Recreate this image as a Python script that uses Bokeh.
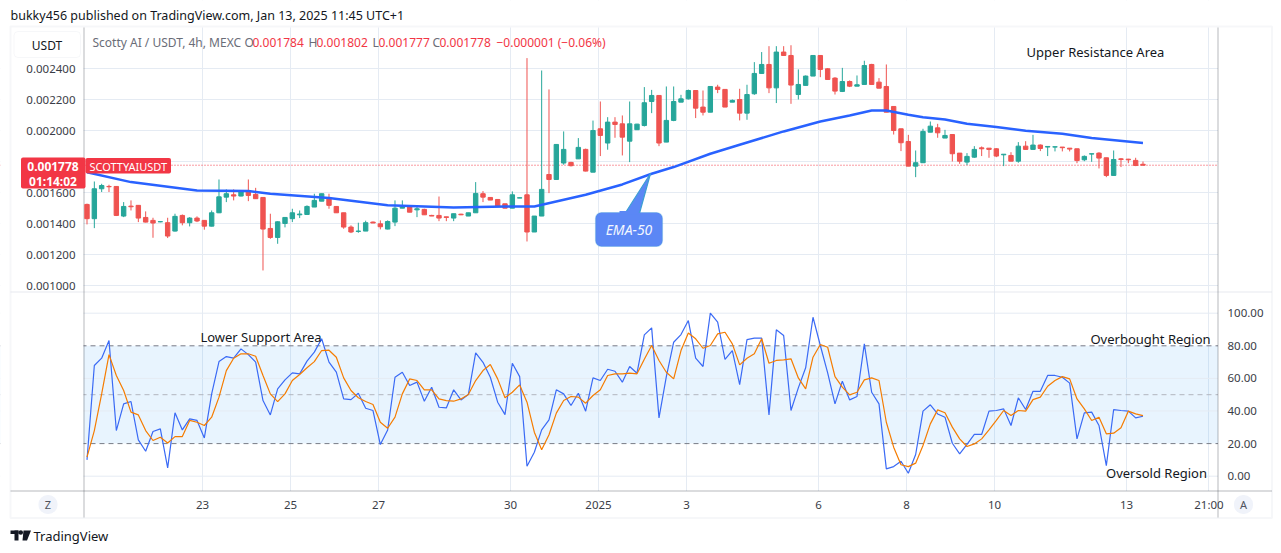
import numpy as np
from bokeh.plotting import figure
from bokeh.models import (Range1d, LinearAxis, FixedTicker, Span, BoxAnnotation, Label,
                          PrintfTickFormatter, ColumnDataSource)
from bokeh.embed import file_html
from bokeh.resources import INLINE

# ---------------- data (prices in units of 1e-6 USDT) ----------------
PRICE_UNIT = 1e-6
opens = [1525, 1433, 1626, 1641, 1641, 1450, 1514, 1519, 1441, 1422, 1413, 1407, 1353, 1454, 1407, 1437, 1422, 1385, 1471, 1572,
         1587, 1579, 1605, 1590, 1570, 1370, 1312, 1402, 1433, 1458, 1460, 1508, 1546, 1568, 1512, 1471, 1379, 1351, 1353, 1411,
         1400, 1366, 1411, 1501, 1508, 1490, 1493, 1454, 1454, 1445, 1437, 1462, 1450, 1471, 1594, 1570, 1557, 1529, 1501, 1566,
         1587, 1347, 1450, 1718, 1686, 1792, 1796, 1819, 1880, 1733, 2013, 1921, 2056, 2045, 1933, 2007, 2034, 2189, 2228, 1927,
         2067, 2185, 2206, 2260, 2153, 2120, 2282, 2267, 2185, 2202, 2114, 2239, 2370, 2428, 2277, 2508, 2486, 2234, 2293, 2353,
         2486, 2400, 2340, 2254, 2318, 2288, 2299, 2428, 2314, 2286, 2157, 2013, 1931, 1772, 1794, 1991, 2019, 1953, 1976, 1856,
         1798, 1830, 1890, 1888, 1884, 1845, 1841, 1804, 1901, 1880, 1908, 1895, 1895, 1895, 1888, 1884, 1813, 1850, 1856, 1826,
         1712, 1819, 1817, 1809, 1784]
highs = [1530, 1673, 1658, 1652, 1643, 1540, 1551, 1521, 1480, 1439, 1416, 1439, 1465, 1460, 1443, 1448, 1424, 1486, 1686, 1622,
         1622, 1607, 1686, 1632, 1572, 1465, 1416, 1443, 1497, 1486, 1519, 1594, 1594, 1594, 1512, 1471, 1390, 1407, 1420, 1415,
         1422, 1422, 1551, 1551, 1508, 1519, 1497, 1458, 1576, 1445, 1465, 1465, 1471, 1669, 1611, 1570, 1557, 1529, 1609, 1570,
         2469, 1450, 2389, 2267, 1912, 1996, 1800, 1953, 1885, 2066, 2189, 2088, 2088, 2099, 2189, 2045, 2282, 2264, 2228, 2286,
         2286, 2232, 2266, 2260, 2260, 2286, 2297, 2267, 2202, 2271, 2297, 2443, 2508, 2546, 2546, 2546, 2552, 2396, 2357, 2486,
         2486, 2404, 2346, 2406, 2325, 2357, 2452, 2432, 2340, 2428, 2157, 2013, 1974, 1873, 2013, 2060, 2045, 2006, 1976, 1856,
         1856, 1901, 1899, 1888, 1888, 1849, 1862, 1927, 1933, 1974, 1912, 1901, 1897, 1895, 1888, 1884, 1841, 1852, 1862, 1826,
         1873, 1824, 1819, 1826, 1802]
lows = [1396, 1372, 1605, 1605, 1450, 1443, 1486, 1411, 1409, 1310, 1410, 1308, 1350, 1390, 1383, 1411, 1362, 1383, 1469, 1540,
        1551, 1577, 1546, 1560, 1099, 1303, 1271, 1377, 1411, 1437, 1458, 1508, 1546, 1497, 1471, 1368, 1340, 1342, 1353, 1405,
        1364, 1364, 1385, 1501, 1475, 1443, 1458, 1450, 1417, 1417, 1417, 1456, 1450, 1471, 1540, 1553, 1514, 1501, 1501, 1566,
        1286, 1347, 1450, 1598, 1686, 1781, 1770, 1819, 1738, 1733, 1837, 1878, 1955, 1841, 1798, 2007, 2028, 2114, 1901, 1927,
        2062, 2185, 2202, 2082, 2099, 2120, 2243, 2153, 2185, 2067, 2071, 2232, 2368, 2243, 2179, 2486, 2174, 2202, 2293, 2353,
        2346, 2331, 2234, 2250, 2282, 2288, 2299, 2299, 2275, 2120, 1976, 1869, 1772, 1701, 1794, 1991, 1955, 1953, 1802, 1787,
        1779, 1826, 1837, 1826, 1830, 1772, 1804, 1794, 1880, 1880, 1869, 1837, 1867, 1867, 1867, 1791, 1804, 1800, 1757, 1701,
        1712, 1766, 1791, 1772, 1777]
closes = [1433, 1626, 1647, 1639, 1454, 1512, 1510, 1437, 1411, 1405, 1414, 1321, 1448, 1407, 1437, 1418, 1385, 1471, 1574, 1594,
          1579, 1605, 1583, 1562, 1366, 1312, 1413, 1441, 1471, 1463, 1512, 1551, 1594, 1519, 1471, 1379, 1347, 1353, 1407, 1405,
          1381, 1415, 1501, 1508, 1475, 1497, 1458, 1450, 1437, 1441, 1465, 1458, 1471, 1596, 1572, 1553, 1514, 1501, 1587, 1568,
          1347, 1450, 1622, 1686, 1912, 1880, 1775, 1893, 1740, 2002, 1970, 2056, 2041, 1959, 2045, 2043, 2181, 2228, 1921, 2067,
          2189, 2206, 2260, 2146, 2120, 2286, 2267, 2153, 2196, 2114, 2234, 2370, 2428, 2277, 2508, 2486, 2295, 2299, 2353, 2486,
          2396, 2331, 2256, 2318, 2288, 2297, 2421, 2299, 2275, 2120, 2002, 1923, 1772, 1794, 1996, 2030, 1987, 1970, 1852, 1804,
          1835, 1880, 1884, 1880, 1837, 1849, 1804, 1901, 1880, 1908, 1886, 1899, 1897, 1891, 1882, 1808, 1835, 1852, 1824, 1712,
          1815, 1815, 1813, 1776, 1778]

# EMA-50 (bar index, value in 1e-6)
ema_bar = [0, 6, 15, 22, 25, 33, 41, 50, 57, 61, 68, 73, 77, 80, 85, 89, 95, 100, 104, 107, 109, 112, 114, 117, 120, 124,
           128, 133, 137, 144]
ema_val = [1733, 1669, 1615, 1611, 1594, 1566, 1519, 1505, 1512, 1512, 1587, 1654, 1723, 1766, 1852, 1910, 1996, 2060, 2099,
           2131, 2131, 2103, 2088, 2073, 2045, 2024, 2000, 1981, 1953, 1921]

rsi = [10.0, 67.9, 72.4, 83.2, 28.0, 44.4, 45.8, 22.3, 15.3, 27.4, 29.0, 5.1, 38.9, 28.4, 35.2, 34.2, 23.5, 50.5, 70.3, 73.4,
       72.4, 78.1, 74.6, 70.0, 46.4, 37.6, 53.6, 59.1, 63.4, 62.8, 70.6, 76.1, 84.3, 70.0, 63.8, 47.4, 47.0, 50.9, 41.7, 40.3,
       19.4, 28.4, 60.7, 63.8, 55.6, 57.7, 46.0, 54.6, 42.3, 41.9, 53.0, 46.8, 50.1, 75.7, 69.9, 60.7, 45.4, 37.8, 69.3, 61.1,
       6.1, 14.7, 28.4, 34.6, 53.0, 50.5, 43.4, 50.9, 39.9, 60.3, 58.7, 65.6, 64.4, 57.7, 67.3, 63.2, 86.7, 91.0, 35.8, 61.1,
       82.2, 86.9, 95.5, 72.4, 67.3, 100.0, 94.5, 71.6, 77.1, 56.2, 83.8, 84.7, 84.7, 37.6, 89.8, 86.3, 40.3, 54.2, 66.5, 97.5,
       80.2, 63.4, 44.4, 58.3, 46.8, 48.9, 81.2, 51.5, 44.4, 4.5, 5.9, 9.2, 1.8, 13.3, 39.9, 43.8, 38.2, 36.2, 20.2, 13.7,
       19.5, 25.6, 25.6, 39.9, 40.3, 41.3, 31.1, 48.1, 40.9, 52.1, 52.1, 61.8, 61.8, 60.7, 57.1, 22.9, 38.9, 39.3, 31.1, 6.5,
       40.9, 40.3, 39.9, 35.8, 36.8]
rsi_ma = [11.7, 28.0, 50.5, 74.6, 61.8, 52.6, 39.3, 37.6, 28.0, 21.9, 23.9, 20.4, 24.3, 24.3, 34.2, 33.1, 31.1, 36.2, 48.5, 64.8,
          72.4, 75.1, 75.1, 73.6, 61.8, 50.5, 45.8, 50.5, 58.7, 62.4, 66.5, 70.3, 77.1, 77.3, 73.0, 60.3, 52.6, 48.1, 45.8, 44.0,
          33.1, 29.4, 36.2, 50.5, 59.7, 58.7, 53.0, 53.0, 47.4, 46.4, 46.0, 47.4, 50.1, 58.7, 64.8, 68.5, 59.7, 48.1, 51.5, 56.0,
          45.4, 27.0, 16.2, 25.4, 38.7, 46.4, 48.9, 48.5, 44.8, 49.5, 53.0, 61.8, 62.8, 62.8, 63.2, 62.8, 71.8, 80.2, 71.0, 63.8,
          59.7, 77.1, 87.9, 84.3, 78.5, 80.2, 87.3, 88.3, 81.2, 68.3, 72.4, 75.1, 84.3, 69.3, 71.0, 71.4, 72.0, 60.3, 53.6, 73.0,
          80.8, 79.1, 61.1, 54.6, 49.9, 51.5, 59.1, 60.3, 58.7, 33.1, 17.8, 7.0, 5.9, 8.0, 18.8, 32.1, 40.7, 38.9, 30.1, 22.9,
          18.2, 19.8, 22.9, 28.4, 34.2, 40.3, 37.2, 40.3, 39.9, 47.0, 48.5, 55.2, 58.7, 61.1, 59.7, 47.4, 41.3, 34.2, 36.2, 26.0,
          26.4, 29.7, 39.9, 38.2, 37.2]

date_ticks = [15.75, 27.75, 39.75, 57.75, 69.75, 81.75, 99.75, 111.75, 123.75, 141.75, 153.0]
date_labels = ["23", "25", "27", "30", "2025", "3", "6", "8", "10", "13", "21:00"]
price_ticks = [0.0010, 0.0012, 0.0014, 0.0016, 0.0018, 0.0020, 0.0022, 0.0024]
rsi_ticks = [0, 20, 40, 60, 80, 100]
last_price = 0.001778

# ---------------- geometry: the frame fills the whole 1281x553 canvas ----------------
W, H = 1281, 553
BAR_PX = 7.3333
X0 = -86.5 / BAR_PX
X1 = X0 + W / BAR_PX
PPX = 6.4516e-6            # price per pixel
P1 = 0.0024 + 68.3 * PPX
P0 = P1 - H * PPX
RPX = 1.63                 # pixels per RSI unit
R1 = 475.7 / RPX
R0 = R1 - H / RPX


def px2x(px):
    return X0 + px / BAR_PX


def py2p(py):
    return P1 - py * PPX


def py2r(py):
    return R1 - py / RPX


FONT = "Noto Sans"
GREEN, RED = "#26a69a", "#ef5350"
TAG_RED = "#f23645"
GRID = "#e5ebf3"
AXIS = "#4d505a"
TXT = "#3a3d47"
BORDER = "#e0e3eb"

p = figure(width=W, height=H, output_backend="svg", toolbar_location=None,
           x_range=Range1d(X0, X1), y_range=Range1d(P0, P1),
           min_border=0, min_border_left=0, min_border_right=0, min_border_top=0, min_border_bottom=0)
p.extra_y_ranges = {"rsi": Range1d(R0, R1)}
p.outline_line_color = None
p.background_fill_color = "white"
p.border_fill_color = "white"

# axes (labels pulled inside the canvas)
xa = p.xaxis[0]
xa.ticker = FixedTicker(ticks=date_ticks)
xa.major_label_overrides = {t: s for t, s in zip(date_ticks, date_labels)}
xa.major_label_standoff = -57
ya = p.yaxis[0]
ya.ticker = FixedTicker(ticks=[t for t in price_ticks if abs(t - 0.0018) > 1e-9])
ya.formatter = PrintfTickFormatter(format="%.6f")
ya.major_label_standoff = -75
ra = LinearAxis(y_range_name="rsi", ticker=FixedTicker(ticks=rsi_ticks),
                formatter=PrintfTickFormatter(format="%.2f"))
p.add_layout(ra, "right")
ra.major_label_standoff = -54
for ax in (xa, ya, ra):
    ax.axis_line_color = None
    ax.major_tick_line_color = None
    ax.minor_tick_line_color = None
    ax.major_tick_out = 0
    ax.major_tick_in = 0
    ax.major_label_text_font = FONT
    ax.major_label_text_font_size = "11.5px"
    ax.major_label_text_color = TXT

# grids
p.xgrid.ticker = FixedTicker(ticks=date_ticks)
p.ygrid.ticker = FixedTicker(ticks=price_ticks)
for g in (p.xgrid[0], p.ygrid[0]):
    g.grid_line_color = GRID
    g.grid_line_width = 1

# RSI pane background band and reference lines
p.add_layout(BoxAnnotation(bottom=20, top=80, y_range_name="rsi", fill_color="#2196f3",
                           fill_alpha=0.1, line_color=None, level="underlay"))
for lv in (0, 40, 60, 100):
    p.add_layout(Span(location=lv, dimension="width", y_range_name="rsi", line_color=GRID,
                      line_width=1, level="underlay"))
for lv in (80, 20):
    p.add_layout(Span(location=lv, dimension="width", y_range_name="rsi", line_color="#787b86",
                      line_width=1, line_dash="5 4", level="underlay"))
p.add_layout(Span(location=50, dimension="width", y_range_name="rsi", line_color="#b2b5be",
                  line_width=1, line_dash="5 4", level="underlay"))
# last price dotted line
p.add_layout(Span(location=last_price, dimension="width", line_color=TAG_RED, line_width=1,
                  line_dash="1 2", level="underlay"))

# white margins around the plotting panes (hide grid/band outside the panes)
for kw in (dict(bottom=py2p(27)), dict(top=py2r(490.5), y_range_name="rsi"),
           dict(right=px2x(83)), dict(left=px2x(1217.5))):
    p.add_layout(BoxAnnotation(fill_color="white", fill_alpha=1.0, line_color=None,
                               level="underlay", **kw))

# chart box, pane separator and scale lines
p.add_layout(BoxAnnotation(left=px2x(10), right=px2x(1271.5), top=py2p(26), bottom=py2p(517.5),
                           fill_color=None, line_color=BORDER, line_width=2, level="underlay"))
p.add_layout(BoxAnnotation(left=px2x(10), right=px2x(1271.5), top=py2r(290.5), bottom=py2r(292.5),
                           y_range_name="rsi", fill_color=BORDER, line_color=None, level="underlay"))
for l_, r_ in ((83, 84), (1217, 1218)):
    p.add_layout(BoxAnnotation(left=px2x(l_), right=px2x(r_), top=py2p(27), bottom=py2p(517),
                               fill_color=AXIS, line_color=None, level="underlay"))
p.add_layout(BoxAnnotation(left=px2x(10), right=px2x(1271.5), top=py2r(490), bottom=py2r(491),
                           y_range_name="rsi", fill_color=AXIS, line_color=None, level="underlay"))

# candles
x = list(range(len(opens)))
o = np.array(opens) * PRICE_UNIT
h = np.array(highs) * PRICE_UNIT
l = np.array(lows) * PRICE_UNIT
c = np.array(closes) * PRICE_UNIT
cols = [GREEN if cc >= oo else RED for oo, cc in zip(opens, closes)]
src = ColumnDataSource(dict(x=x, h=h, l=l, top=np.maximum(o, c), bot=np.minimum(o, c), col=cols))
p.segment(x0="x", y0="l", x1="x", y1="h", line_color="col", line_width=1, source=src)
p.vbar(x="x", width=0.6, top="top", bottom="bot", fill_color="col", line_color="col",
       line_width=1, source=src)

# EMA-50
p.line(ema_bar, np.array(ema_val) * PRICE_UNIT, line_color="#2962ff", line_width=2.5)

# RSI and its MA
p.line(x, rsi, y_range_name="rsi", line_color="#3a6af5", line_width=1.2)
p.line(x, rsi_ma, y_range_name="rsi", line_color="#f57c00", line_width=1.2)

# TradingView logo mark (small dark shapes)
p.quad(left=[px2x(10), px2x(14)], right=[px2x(18), px2x(18)],
       top=[py2r(530), py2r(530)], bottom=[py2r(533.5), py2r(540)], y_range_name="rsi",
       fill_color="#131722", line_color=None)
p.patch([px2x(23), px2x(30.5), px2x(26.5), px2x(22)], [py2r(530), py2r(530), py2r(540), py2r(540)],
        y_range_name="rsi", fill_color="#131722", line_color=None)
p.scatter([px2x(20.3)], [py2r(532)], y_range_name="rsi", size=4.5, fill_color="#131722",
          line_color=None)


def add_box(l_px, r_px, t_py, b_py, rng="default", **kw):
    conv = py2r if rng == "rsi" else py2p
    p.add_layout(BoxAnnotation(left=px2x(l_px), right=px2x(r_px), top=conv(t_py), bottom=conv(b_py),
                               y_range_name=rng, level="annotation", **kw))


def add_text(px, yv, text, rng="default", align="center", size="13px", color="#131722", **kw):
    p.add_layout(Label(x=px2x(px), y=yv, y_range_name=rng, text=text, text_align=align,
                       text_baseline="middle", text_font=FONT, text_font_size=size,
                       text_color=color, **kw))


# EMA-50 callout
BLUE_BOX, BLUE_EDGE = "#5b87f5", "#3d9fd3"
p.patch([px2x(620), px2x(637), px2x(650)], [py2p(220), py2p(220), py2p(173)],
        fill_color=BLUE_BOX, line_color=BLUE_EDGE, line_width=1.2)
add_box(595, 662, 212, 246, fill_color=BLUE_BOX, fill_alpha=1.0, line_color=BLUE_EDGE,
        line_width=1.2, border_radius=6)
add_box(619, 638, 210.5, 214, fill_color=BLUE_BOX, fill_alpha=1.0, line_color=None)
add_text(628.5, py2p(229), "EMA-50", size="14px", color="#f2f6ff", text_font_style="italic")

# header texts
add_text(10, py2p(15), "bukky456 published on TradingView.com, Jan 13, 2025 11:45 UTC+1",
         align="left", size="12.5px")
hy = py2p(42)
add_text(92, hy, "Scotty AI / USDT, 4h, MEXC", align="left", size="12px", color="#6a6d78")
for px, t, col in [(244, "O", "#6a6d78"), (252, "0.001784", TAG_RED),
                   (308, "H", "#6a6d78"), (316, "0.001802", TAG_RED),
                   (372, "L", "#6a6d78"), (378, "0.001777", TAG_RED),
                   (432, "C", "#6a6d78"), (439, "0.001778", TAG_RED),
                   (496, "\u22120.000001 (\u22120.06%)", TAG_RED)]:
    add_text(px, hy, t, align="left", size="12px", color=col)

# USDT button
add_box(13.5, 80, 31, 57, fill_color="white", fill_alpha=1.0, line_color=BORDER, line_width=1,
        border_radius=4)
add_text(46.5, py2p(44.5), "USDT", size="12px")

# price tags
add_box(20.5, 85, 157, 188, fill_color=TAG_RED, fill_alpha=1.0, line_color=None, border_radius=2)
add_text(52.5, py2p(165.5), "0.001778", size="12px", color="white", text_font_style="bold")
add_text(52.5, py2p(180.5), "01:14:02", size="12px", color="white", text_font_style="bold")
add_box(85, 170.5, 157.5, 173, fill_color=TAG_RED, fill_alpha=1.0, line_color=None, border_radius=2)
add_text(127.8, py2p(165.5), "SCOTTYAIUSDT", size="11px", color="white")

# chart annotations
add_text(1095, py2p(51), "Upper Resistance Area")
add_text(260.5, py2r(336), "Lower Support Area", rng="rsi")
add_text(1150, py2r(338), "Overbought Region", rng="rsi")
add_text(1156, py2r(472), "Oversold Region", rng="rsi")

# scale buttons
add_box(38, 57, 494.5, 513.5, rng="rsi", fill_color="#f0f3fa", fill_alpha=1.0, line_color=None,
        border_radius=9)
add_text(47.5, py2r(504), "Z", rng="rsi", size="11px", color="#50535e")
add_box(1233.5, 1252.5, 494.5, 513.5, rng="rsi", fill_color="#f0f3fa", fill_alpha=1.0,
        line_color=None, border_radius=9)
add_text(1243, py2r(504), "A", rng="rsi", size="11px", color="#50535e")

# footer
add_text(33, py2r(535), "TradingView", rng="rsi", align="left", size="13px")

open("out.html", "w").write(file_html(p, INLINE))
